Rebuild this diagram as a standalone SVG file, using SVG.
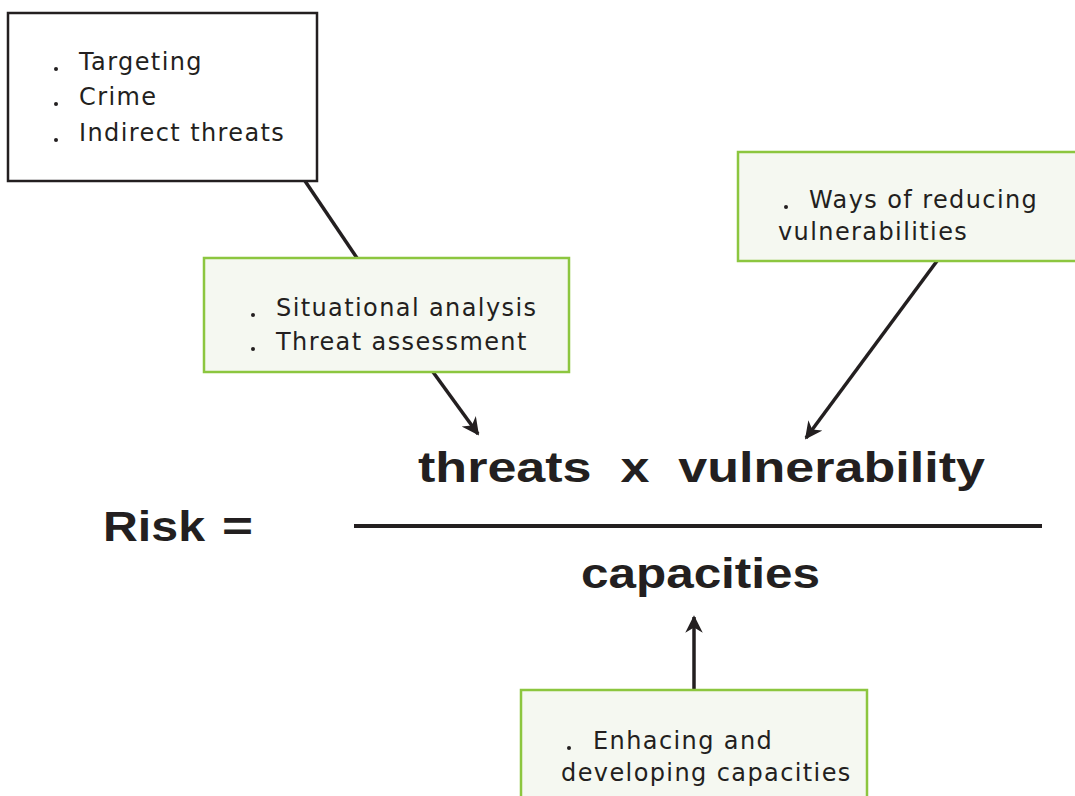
<svg xmlns="http://www.w3.org/2000/svg" width="1075" height="796" viewBox="0 0 1075 796">
<defs>
<marker id="ah" viewBox="0 0 10 10" refX="9" refY="5" markerWidth="5.5" markerHeight="5" markerUnits="strokeWidth" orient="auto">
<path d="M0,0 L10,5 L0,10 L3,5 Z" fill="#231f20"/>
</marker>
<style>
.box{fill:#fff;stroke:#231f20;stroke-width:2.5}
.gbox{fill:#f5f8f1;stroke:#8cc63f;stroke-width:2.5}
.t{font-family:"DejaVu Sans",sans-serif;font-size:24px;letter-spacing:1.4px;fill:#231f20}
.b{font-family:"Liberation Sans",sans-serif;font-weight:bold;font-size:42px;fill:#231f20}
.dot{fill:#231f20}
.conn{stroke:#231f20;stroke-width:3.5;fill:none}
</style>
</defs>
<rect width="1075" height="796" fill="#fff"/>
<g id="connectors">
<line class="conn" x1="305" y1="181" x2="357" y2="258"/>
<line class="conn" x1="433" y1="372" x2="478" y2="434" marker-end="url(#ah)"/>
<line class="conn" x1="937" y1="261" x2="806" y2="438" marker-end="url(#ah)"/>
<line class="conn" x1="694" y1="690" x2="694" y2="617" marker-end="url(#ah)"/>
</g>
<g id="threats-box">
<rect class="box" x="8" y="13" width="309" height="168"/>
<circle class="dot" cx="56" cy="69" r="2"/>
<circle class="dot" cx="56" cy="104" r="2"/>
<circle class="dot" cx="56" cy="140" r="2"/>
<text class="t" x="79" y="70">Targeting</text>
<text class="t" x="79" y="105">Crime</text>
<text class="t" x="79" y="141">Indirect threats</text>
</g>
<g id="analysis-box">
<rect class="gbox" x="204" y="258" width="365" height="114"/>
<circle class="dot" cx="253" cy="315" r="2"/>
<circle class="dot" cx="253" cy="349" r="2"/>
<text class="t" x="276" y="316">Situational analysis</text>
<text class="t" x="276" y="350">Threat assessment</text>
</g>
<g id="vuln-box">
<rect class="gbox" x="738" y="152" width="345" height="109"/>
<circle class="dot" cx="786" cy="207" r="2"/>
<text class="t" x="809" y="208">Ways of reducing</text>
<text class="t" x="778" y="240">vulnerabilities</text>
</g>
<g id="capacity-box">
<rect class="gbox" x="521" y="690" width="346" height="120"/>
<circle class="dot" cx="569" cy="748" r="2"/>
<text class="t" x="593" y="749">Enhacing and</text>
<text class="t" x="561" y="781">developing capacities</text>
</g>
<g id="formula">
<text class="b" x="103" y="541" textLength="102" lengthAdjust="spacingAndGlyphs">Risk</text>
<text class="b" x="222" y="541" textLength="31" lengthAdjust="spacingAndGlyphs">=</text>
<text class="b" x="418" y="482" textLength="567" lengthAdjust="spacingAndGlyphs" xml:space="preserve">threats  x  vulnerability</text>
<line x1="354" y1="526" x2="1042" y2="526" stroke="#231f20" stroke-width="4"/>
<text class="b" x="581" y="588" textLength="239" lengthAdjust="spacingAndGlyphs">capacities</text>
</g>
</svg>
